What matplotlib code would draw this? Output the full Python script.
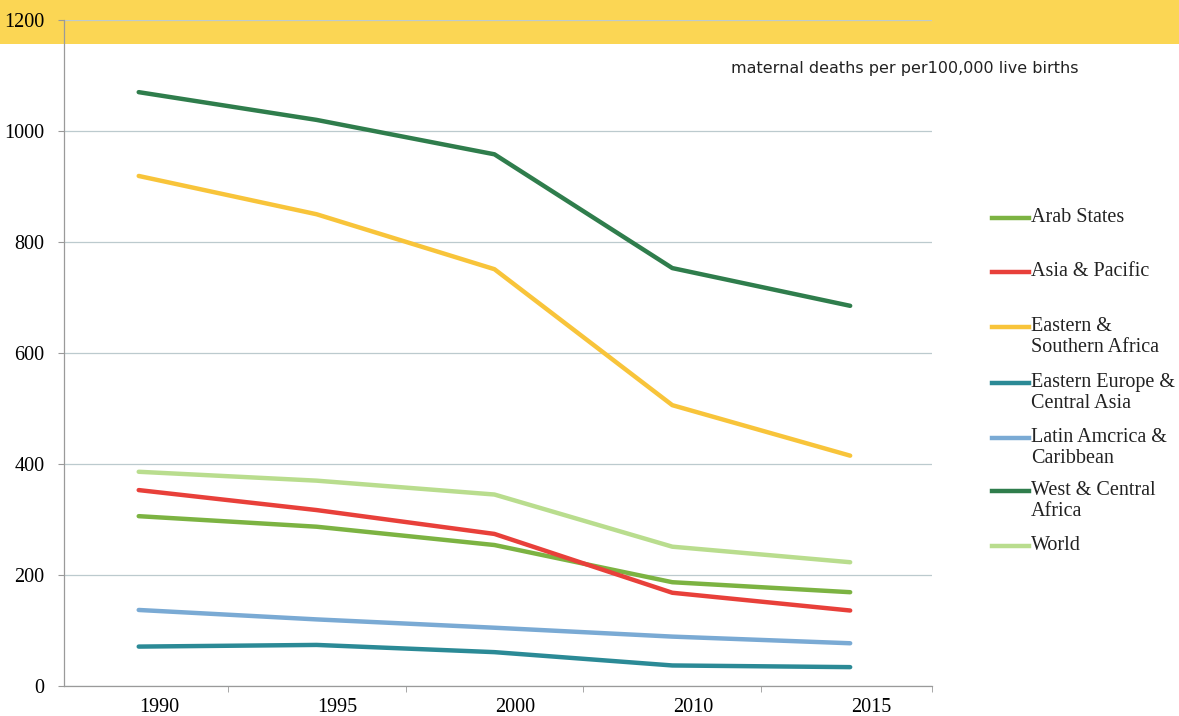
import matplotlib
matplotlib.use("Agg")
import matplotlib.pyplot as plt
from matplotlib.lines import Line2D
from matplotlib.patches import Rectangle
import matplotlib.transforms as mtransforms

years = ["1990", "1995", "2000", "2010", "2015"]
series_names = ["Arab States", "Asia & Pacific", "Eastern &\nSouthern Africa",
                "Eastern Europe &\nCentral Asia", "Latin Amcrica &\nCaribbean",
                "West & Central\nAfrica", "World"]
arab_states = [306, 287, 254, 187, 169]
asia_pacific = [353, 317, 274, 168, 136]
east_south_africa = [919, 850, 751, 506, 415]
east_europe_central_asia = [71, 74, 61, 37, 34]
latin_america = [137, 120, 105, 89, 77]
west_central_africa = [1070, 1020, 958, 753, 685]
world = [386, 370, 345, 251, 223]
values = [arab_states, asia_pacific, east_south_africa, east_europe_central_asia,
          latin_america, west_central_africa, world]
colors = ["#7cb342", "#e8403a", "#f8c43a", "#2b8a96", "#7aaad4", "#2f7d4c", "#b9dd8e"]
yticks = [0, 200, 400, 600, 800, 1000, 1200]

W, H = 1179, 716
fig = plt.figure(figsize=(W / 100, H / 100), dpi=100)
fig.patch.set_facecolor("white")
# yellow band across the top
fig.patches.append(Rectangle((0, 1 - 44 / H), 1, 44 / H, transform=fig.transFigure,
                             facecolor="#fbd654", edgecolor="none", zorder=0))

left, right, top, bottom = 64, 932, 20, 686
ax = fig.add_axes([left / W, 1 - bottom / H, (right - left) / W, (bottom - top) / H])
ax.set_facecolor("none")
ax.set_zorder(1)

x = list(range(len(years)))
for vals, col in zip(values, colors):
    ax.plot(x, vals, color=col, lw=3.2, solid_capstyle="round", zorder=3)

ax.set_ylim(0, 1200)
ax.set_xlim(-0.42, 4.46)
ax.set_yticks(yticks)
ax.set_yticklabels([str(t) for t in yticks], fontfamily="Liberation Serif", fontsize=14.5)
ax.set_xticks(x)
ax.set_xticklabels(years, fontfamily="Liberation Serif", fontsize=14.5)
ax.set_xticks([0.5, 1.5, 2.5, 3.5, 4.46], minor=True)
ax.tick_params(axis="x", which="major", length=0, pad=9)
ax.tick_params(axis="x", which="minor", length=4, color="#999999", direction="out")
ax.tick_params(axis="y", length=4, color="#999999", pad=10)
offset = mtransforms.ScaledTranslation(21 / 100, 0, fig.dpi_scale_trans)
for lab in ax.get_xticklabels():
    lab.set_transform(lab.get_transform() + offset)

ax.grid(axis="y", color="#bccace", lw=0.9)
ax.set_axisbelow(True)
for s in ["top", "right"]:
    ax.spines[s].set_visible(False)
for s in ["left", "bottom"]:
    ax.spines[s].set_color("#9a9a9a")
    ax.spines[s].set_linewidth(0.9)

fig.text(731 / W, 1 - 69 / H, "maternal deaths per per100,000 live births",
         fontsize=11.5, fontfamily="DejaVu Sans", va="center", ha="left", color="#222222")

# legend
leg_y = [218, 272, 327, 383, 438, 491, 546]
for name, col, yy in zip(series_names, colors, leg_y):
    fig.add_artist(Line2D([992 / W, 1029 / W], [1 - yy / H, 1 - yy / H],
                          transform=fig.transFigure, color=col, lw=3.2))
    fig.text(1031 / W, 1 - (yy - 10) / H, name, fontsize=14.5, fontfamily="Liberation Serif",
             va="top", ha="left", color="#222222", linespacing=1.12)

fig.savefig("out.png", dpi=100)
